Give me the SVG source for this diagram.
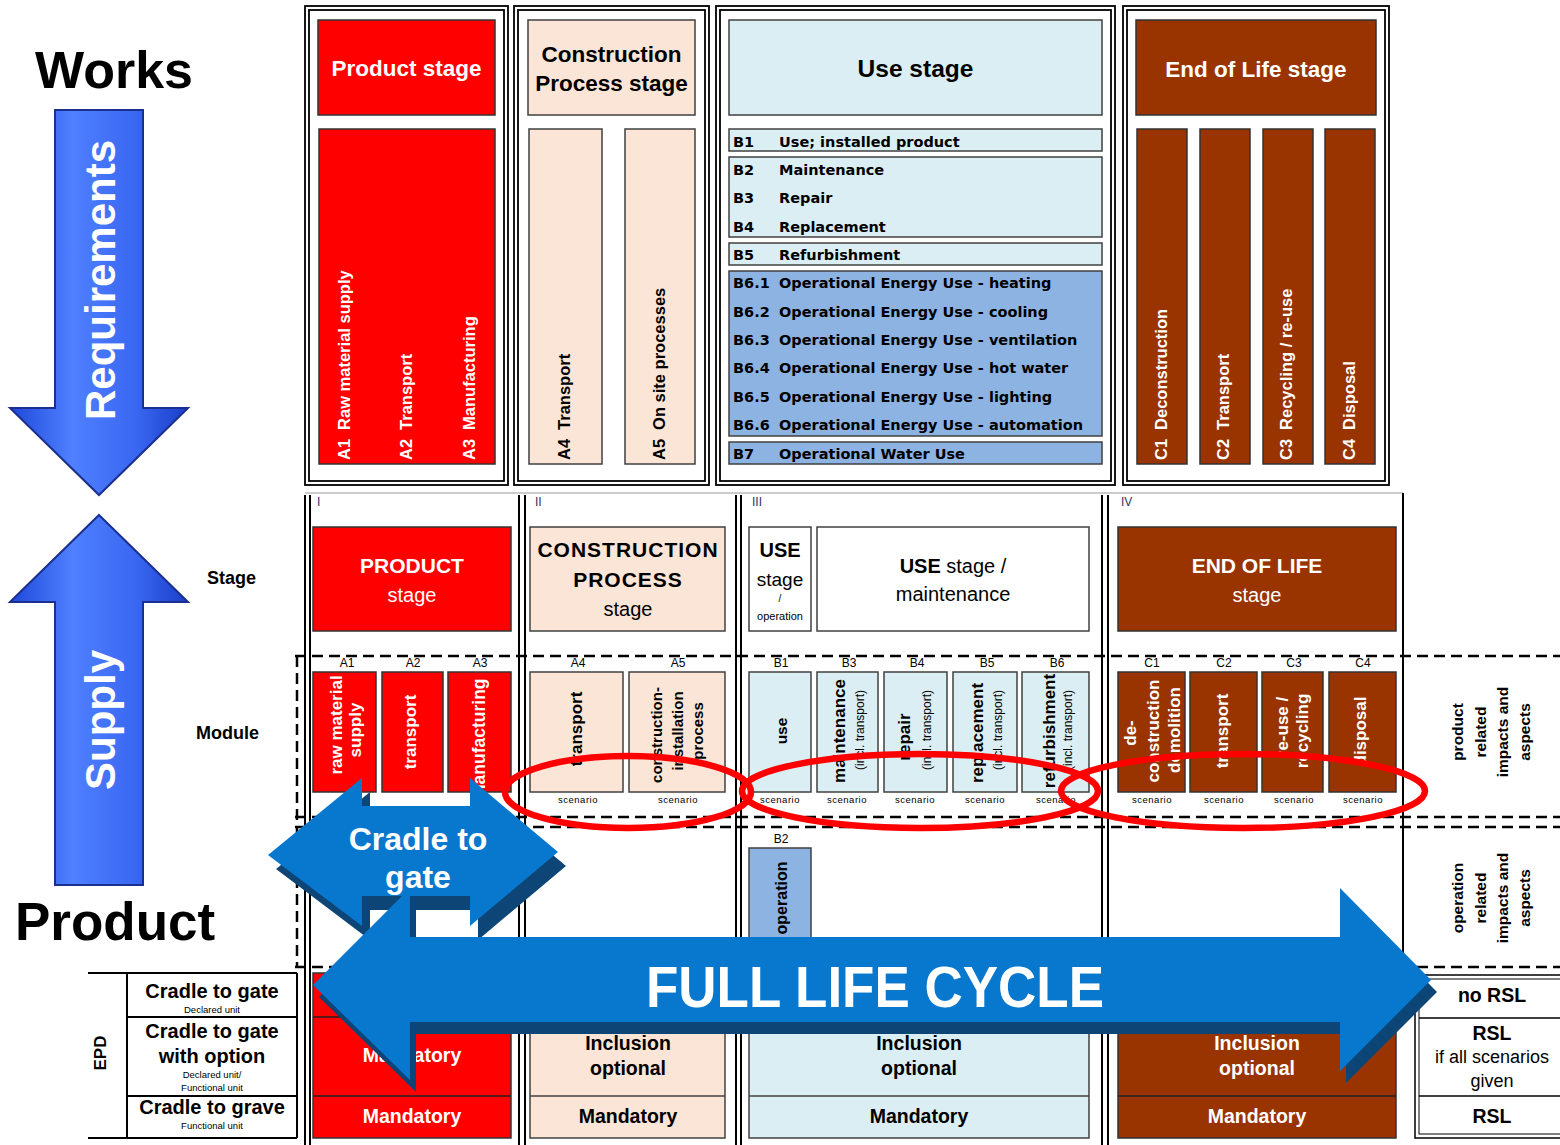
<svg xmlns="http://www.w3.org/2000/svg" width="1560" height="1145" viewBox="0 0 1560 1145">
<defs>
<style>
text{font-family:"Liberation Sans",Arial,sans-serif;fill:#000}
.b{font-weight:bold}
.v{font-family:"DejaVu Sans",Verdana,sans-serif;font-weight:bold;font-size:14.5px}
.fr{fill:none;stroke:#000;stroke-width:1.8}
.red{fill:#FF0000;stroke:#333;stroke-width:1.5}
.pe{fill:#FBE5D6;stroke:#404040;stroke-width:1.5}
.lb{fill:#DAEEF3;stroke:#404040;stroke-width:1.5}
.db{fill:#8DB3E2;stroke:#404040;stroke-width:1.5}
.br{fill:#993300;stroke:#333;stroke-width:1.5}
.wh{fill:#fff;stroke:#404040;stroke-width:1.5}
.dash{stroke:#000;stroke-width:2.5;stroke-dasharray:11 6;fill:none}
.vl{stroke:#000;stroke-width:2;fill:none}
.w{fill:#fff}
.ml{font-size:12px;text-anchor:middle}
.sc{font-size:9.5px;text-anchor:middle;letter-spacing:0.5px}
.c{text-anchor:middle}
.rt{font-size:16.5px;font-weight:bold}
.mt{font-size:17px;font-weight:bold;text-anchor:middle}
.sub{font-size:12px;text-anchor:middle}
.ra{font-size:15.5px;font-weight:bold;text-anchor:middle}
.ell{fill:none;stroke:#FF0000;stroke-width:6.5}
.big{fill:#0878CE}
.bev{fill:#0D4676}
.rom{font-size:12px;fill:#333366}
.st{font-size:20px}
.bt{font-size:19.5px;font-weight:bold;text-anchor:middle}
</style>
<linearGradient id="ag" x1="0" x2="1" y1="0" y2="0">
<stop offset="0" stop-color="#1E48D8"/>
<stop offset="0.35" stop-color="#4F80FF"/>
<stop offset="0.7" stop-color="#3A68F2"/>
<stop offset="1" stop-color="#1A3EC8"/>
</linearGradient>
<clipPath id="clipA3"><rect x="448" y="672" width="63" height="120"/></clipPath>
</defs>

<!-- Left side: Works / Requirements / Supply / Product -->
<g id="works-label"><text x="35" y="88" class="b" font-size="52">Works</text></g>
<g id="requirements-arrow">
<polygon points="55,110 143,110 143,408 188,408 99,495 10,408 55,408" fill="url(#ag)" stroke="#1A2F8F" stroke-width="2"/>
<text transform="translate(115,280) rotate(-90)" class="b w c" font-size="42">Requirements</text>
</g>
<g id="supply-arrow">
<polygon points="99,515 188,602 143,602 143,885 55,885 55,602 10,602" fill="url(#ag)" stroke="#1A2F8F" stroke-width="2"/>
<text transform="translate(115,720) rotate(-90)" class="b w c" font-size="42">Supply</text>
</g>
<g id="product-label"><text x="15" y="940" class="b" font-size="53">Product</text></g>

<!-- Top frames -->
<g id="frame-product-stage">
<rect x="305" y="6" width="203" height="479" class="fr"/>
<rect x="309" y="10" width="195" height="471" class="fr" stroke-width="1.2"/>
<rect x="318" y="20" width="177" height="95" class="red"/>
<text x="406.5" y="76" class="b w c" font-size="22.5">Product stage</text>
<rect x="319" y="129" width="176" height="335" class="red"/>
<text transform="translate(350,460) rotate(-90)" class="rt w">A1<tspan dx="9">Raw material supply</tspan></text>
<text transform="translate(412,460) rotate(-90)" class="rt w">A2<tspan dx="9">Transport</tspan></text>
<text transform="translate(475,460) rotate(-90)" class="rt w">A3<tspan dx="9">Manufacturing</tspan></text>
</g>
<g id="frame-construction-stage">
<rect x="514" y="6" width="195" height="479" class="fr"/>
<rect x="518" y="10" width="187" height="471" class="fr" stroke-width="1.2"/>
<rect x="528" y="20" width="167" height="95" class="pe"/>
<text x="611.5" y="62" class="b c" font-size="22.5">Construction</text>
<text x="611.5" y="91" class="b c" font-size="22.5">Process stage</text>
<rect x="529" y="129" width="73" height="335" class="pe"/>
<rect x="625" y="129" width="70" height="335" class="pe"/>
<text transform="translate(570,460) rotate(-90)" class="rt">A4<tspan dx="9">Transport</tspan></text>
<text transform="translate(665,460) rotate(-90)" class="rt">A5<tspan dx="9">On site processes</tspan></text>
</g>
<g id="frame-use-stage">
<rect x="716" y="6" width="399" height="479" class="fr"/>
<rect x="720" y="10" width="391" height="471" class="fr" stroke-width="1.2"/>
<rect x="729" y="20" width="373" height="95" class="lb"/>
<text x="915.5" y="77" class="b c" font-size="24.5">Use stage</text>
<rect x="729" y="129" width="373" height="22" class="lb"/>
<rect x="729" y="157" width="373" height="80" class="lb"/>
<rect x="729" y="243" width="373" height="22" class="lb"/>
<rect x="729" y="271" width="373" height="165" class="db"/>
<rect x="729" y="442" width="373" height="22" class="db"/>
<text x="733" y="147" class="v">B1</text><text x="779" y="147" class="v">Use; installed product</text>
<text x="733" y="175" class="v">B2</text><text x="779" y="175" class="v">Maintenance</text>
<text x="733" y="203" class="v">B3</text><text x="779" y="203" class="v">Repair</text>
<text x="733" y="232" class="v">B4</text><text x="779" y="232" class="v">Replacement</text>
<text x="733" y="260" class="v">B5</text><text x="779" y="260" class="v">Refurbishment</text>
<text x="733" y="288" class="v">B6.1</text><text x="779" y="288" class="v">Operational Energy Use - heating</text>
<text x="733" y="317" class="v">B6.2</text><text x="779" y="317" class="v">Operational Energy Use - cooling</text>
<text x="733" y="345" class="v">B6.3</text><text x="779" y="345" class="v">Operational Energy Use - ventilation</text>
<text x="733" y="373" class="v">B6.4</text><text x="779" y="373" class="v">Operational Energy Use - hot water</text>
<text x="733" y="402" class="v">B6.5</text><text x="779" y="402" class="v">Operational Energy Use - lighting</text>
<text x="733" y="430" class="v">B6.6</text><text x="779" y="430" class="v">Operational Energy Use - automation</text>
<text x="733" y="459" class="v">B7</text><text x="779" y="459" class="v">Operational Water Use</text>
</g>
<g id="frame-end-of-life-stage">
<rect x="1123" y="6" width="266" height="479" class="fr"/>
<rect x="1127" y="10" width="258" height="471" class="fr" stroke-width="1.2"/>
<rect x="1136" y="20" width="240" height="95" class="br"/>
<text x="1256" y="77" class="b w c" font-size="22.5">End of Life stage</text>
<rect x="1137" y="129" width="50" height="335" class="br"/>
<rect x="1200" y="129" width="50" height="335" class="br"/>
<rect x="1263" y="129" width="50" height="335" class="br"/>
<rect x="1325" y="129" width="50" height="335" class="br"/>
<text transform="translate(1167,460) rotate(-90)" class="rt w">C1<tspan dx="9">Deconstruction</tspan></text>
<text transform="translate(1229,460) rotate(-90)" class="rt w">C2<tspan dx="9">Transport</tspan></text>
<text transform="translate(1292,460) rotate(-90)" class="rt w">C3<tspan dx="9">Recycling / re-use</tspan></text>
<text transform="translate(1355,460) rotate(-90)" class="rt w">C4<tspan dx="9">Disposal</tspan></text>
</g>

<!-- Lower grid -->
<g id="grid">
<line x1="305" y1="493" x2="1403" y2="493" stroke="#999" stroke-width="1.2"/>
<line x1="1403" y1="493" x2="1403" y2="968" class="vl"/>
<line x1="305" y1="495" x2="305" y2="1145" class="vl" stroke-width="2.5"/>
<line x1="310" y1="495" x2="310" y2="1145" class="vl"/>
<line x1="519" y1="495" x2="519" y2="1145" class="vl" stroke-width="2.5"/>
<line x1="525" y1="495" x2="525" y2="1145" class="vl"/>
<line x1="736" y1="495" x2="736" y2="1145" class="vl" stroke-width="2.5"/>
<line x1="741" y1="495" x2="741" y2="1145" class="vl"/>
<line x1="1102" y1="495" x2="1102" y2="1145" class="vl" stroke-width="2.5"/>
<line x1="1108" y1="495" x2="1108" y2="1145" class="vl"/>
<line x1="295" y1="656" x2="1560" y2="656" class="dash"/>
<line x1="295" y1="817" x2="1560" y2="817" class="dash"/>
<line x1="295" y1="827" x2="1560" y2="827" class="dash"/>
<line x1="295" y1="967" x2="1560" y2="967" class="dash"/>
<line x1="297" y1="656" x2="297" y2="967" class="dash"/>
<text x="317" y="506" class="rom">I</text>
<text x="535" y="506" class="rom">II</text>
<text x="752" y="506" class="rom">III</text>
<text x="1121" y="506" class="rom">IV</text>
<text x="207" y="584" class="b" font-size="18">Stage</text>
<text x="196" y="739" class="b" font-size="18">Module</text>
</g>

<!-- Stage row -->
<g id="stage-product">
<rect x="313" y="527" width="198" height="104" class="red"/>
<text x="412" y="573" class="b w c" font-size="21">PRODUCT</text>
<text x="412" y="602" class="w c st">stage</text>
</g>
<g id="stage-construction">
<rect x="530" y="527" width="195" height="104" class="pe"/>
<text x="628" y="557" class="b c" font-size="21" letter-spacing="1">CONSTRUCTION</text>
<text x="628" y="587" class="b c" font-size="21" letter-spacing="1">PROCESS</text>
<text x="628" y="616" class="c st">stage</text>
</g>
<g id="stage-use-operation">
<rect x="749" y="527" width="62" height="104" class="wh"/>
<text x="780" y="557" class="b c" font-size="20">USE</text>
<text x="780" y="586" class="c" font-size="19">stage</text>
<text x="780" y="602" class="c" font-size="10">/</text>
<text x="780" y="620" class="c" font-size="11">operation</text>
</g>
<g id="stage-use-maintenance">
<rect x="817" y="527" width="272" height="104" class="wh"/>
<text x="953" y="573" class="c st"><tspan font-weight="bold">USE</tspan> stage /</text>
<text x="953" y="601" class="c st">maintenance</text>
</g>
<g id="stage-end-of-life">
<rect x="1118" y="527" width="278" height="104" class="br"/>
<text x="1257" y="573" class="b w c" font-size="21">END OF LIFE</text>
<text x="1257" y="602" class="w c st">stage</text>
</g>

<!-- Module row -->
<g id="module-labels">
<text x="347" y="667" class="ml">A1</text><text x="413" y="667" class="ml">A2</text><text x="480" y="667" class="ml">A3</text>
<text x="578" y="667" class="ml">A4</text><text x="678" y="667" class="ml">A5</text>
<text x="781" y="667" class="ml">B1</text><text x="849" y="667" class="ml">B3</text><text x="917" y="667" class="ml">B4</text><text x="987" y="667" class="ml">B5</text><text x="1057" y="667" class="ml">B6</text>
<text x="1152" y="667" class="ml">C1</text><text x="1224" y="667" class="ml">C2</text><text x="1294" y="667" class="ml">C3</text><text x="1363" y="667" class="ml">C4</text>
<text x="781" y="843" class="ml">B2</text>
</g>
<g id="module-a1">
<rect x="313" y="672" width="63" height="120" class="red"/>
<text transform="translate(342,725) rotate(-90)" class="mt w">raw material</text>
<text transform="translate(361,730) rotate(-90)" class="mt w">supply</text>
</g>
<g id="module-a2">
<rect x="382" y="672" width="61" height="120" class="red"/>
<text transform="translate(416,732) rotate(-90)" class="mt w">transport</text>
</g>
<g id="module-a3">
<rect x="448" y="672" width="63" height="120" class="red"/>
<g clip-path="url(#clipA3)">
<text transform="translate(485,800) rotate(-90)" class="b w" font-size="17.5">manufacturing</text>
</g>
</g>
<g id="module-a4">
<rect x="530" y="672" width="93" height="120" class="pe"/>
<text transform="translate(582,729) rotate(-90)" class="mt">transport</text>
<text x="578" y="803" class="sc">scenario</text>
</g>
<g id="module-a5">
<rect x="629" y="672" width="96" height="120" class="pe"/>
<text transform="translate(662,735) rotate(-90)" class="b c" font-size="15">construction-</text>
<text transform="translate(683,731) rotate(-90)" class="b c" font-size="15">installation</text>
<text transform="translate(703,731) rotate(-90)" class="b c" font-size="15">process</text>
<text x="678" y="803" class="sc">scenario</text>
</g>
<g id="module-b1">
<rect x="749" y="672" width="62" height="120" class="lb"/>
<text transform="translate(787,731) rotate(-90)" class="b c" font-size="15.5">use</text>
<text x="780" y="803" class="sc">scenario</text>
</g>
<g id="module-b3">
<rect x="817" y="672" width="61" height="120" class="lb"/>
<text transform="translate(845,731) rotate(-90)" class="mt" font-size="16">maintenance</text>
<text transform="translate(864,730) rotate(-90)" class="sub">(incl. transport)</text>
<text x="847" y="803" class="sc">scenario</text>
</g>
<g id="module-b4">
<rect x="884" y="672" width="63" height="120" class="lb"/>
<text transform="translate(910,737) rotate(-90)" class="mt" font-size="16">repair</text>
<text transform="translate(931,730) rotate(-90)" class="sub">(incl. transport)</text>
<text x="915" y="803" class="sc">scenario</text>
</g>
<g id="module-b5">
<rect x="953" y="672" width="64" height="120" class="lb"/>
<text transform="translate(983,733) rotate(-90)" class="mt" font-size="16">replacement</text>
<text transform="translate(1002,730) rotate(-90)" class="sub">(incl. transport)</text>
<text x="985" y="803" class="sc">scenario</text>
</g>
<g id="module-b6">
<rect x="1022" y="672" width="67" height="120" class="lb"/>
<text transform="translate(1055,731) rotate(-90)" class="mt" font-size="16">refurbishment</text>
<text transform="translate(1072,730) rotate(-90)" class="sub">(incl. transport)</text>
<text x="1056" y="803" class="sc">scenario</text>
</g>
<g id="module-b2">
<rect x="749" y="848" width="62" height="92" class="db"/>
<text transform="translate(787,898) rotate(-90)" class="b c" font-size="16">operation</text>
</g>
<g id="module-c1">
<rect x="1118" y="672" width="67" height="120" class="br"/>
<text transform="translate(1136,733) rotate(-90)" class="mt w">de-</text>
<text transform="translate(1159,731) rotate(-90)" class="mt w">construction</text>
<text transform="translate(1180,730) rotate(-90)" class="mt w">demolition</text>
<text x="1152" y="803" class="sc">scenario</text>
</g>
<g id="module-c2">
<rect x="1190" y="672" width="67" height="120" class="br"/>
<text transform="translate(1228,731) rotate(-90)" class="mt w">transport</text>
<text x="1224" y="803" class="sc">scenario</text>
</g>
<g id="module-c3">
<rect x="1262" y="672" width="61" height="120" class="br"/>
<text transform="translate(1288,727) rotate(-90)" class="mt w">re-use /</text>
<text transform="translate(1308,731) rotate(-90)" class="mt w">recycling</text>
<text x="1294" y="803" class="sc">scenario</text>
</g>
<g id="module-c4">
<rect x="1329" y="672" width="67" height="120" class="br"/>
<text transform="translate(1366,731) rotate(-90)" class="mt w">disposal</text>
<text x="1363" y="803" class="sc">scenario</text>
</g>
<g id="product-related">
<text transform="translate(1463,732) rotate(-90)" class="ra">product</text>
<text transform="translate(1486,732) rotate(-90)" class="ra">related</text>
<text transform="translate(1508,732) rotate(-90)" class="ra">impacts and</text>
<text transform="translate(1530,732) rotate(-90)" class="ra">aspects</text>
</g>
<g id="operation-related">
<text transform="translate(1463,898) rotate(-90)" class="ra">operation</text>
<text transform="translate(1486,898) rotate(-90)" class="ra">related</text>
<text transform="translate(1508,898) rotate(-90)" class="ra">impacts and</text>
<text transform="translate(1530,898) rotate(-90)" class="ra">aspects</text>
</g>

<!-- Bottom table -->
<g id="epd-table">
<line x1="88" y1="973" x2="297" y2="973" class="vl" stroke-width="1.5"/>
<line x1="88" y1="1138" x2="297" y2="1138" class="vl" stroke-width="1.5"/>
<line x1="127" y1="973" x2="127" y2="1138" class="vl" stroke-width="1.5"/>
<line x1="297" y1="973" x2="297" y2="1138" class="vl" stroke-width="1.5"/>
<line x1="127" y1="1017" x2="297" y2="1017" class="vl" stroke-width="1.5"/>
<line x1="127" y1="1096" x2="297" y2="1096" class="vl" stroke-width="1.5"/>
<text transform="translate(106,1053) rotate(-90)" class="b c" font-size="17">EPD</text>
<text x="212" y="998" class="b c" font-size="20">Cradle to gate</text>
<text x="212" y="1013" class="c" font-size="9.5">Declared unit</text>
<text x="212" y="1038" class="b c" font-size="20">Cradle to gate</text>
<text x="212" y="1063" class="b c" font-size="20">with option</text>
<text x="212" y="1078" class="c" font-size="9.5">Declared unit/</text>
<text x="212" y="1091" class="c" font-size="9.5">Functional unit</text>
<text x="212" y="1114" class="b c" font-size="20">Cradle to grave</text>
<text x="212" y="1129" class="c" font-size="9.5">Functional unit</text>
</g>
<g id="table-product">
<rect x="313" y="973" width="198" height="165" class="red"/>
<line x1="313" y1="1017" x2="511" y2="1017" stroke="#222" stroke-width="1.5"/>
<line x1="313" y1="1096" x2="511" y2="1096" stroke="#222" stroke-width="1.5"/>
<text x="412" y="1062" class="bt w">Mandatory</text>
<text x="412" y="1123" class="bt w">Mandatory</text>
</g>
<g id="table-construction">
<rect x="530" y="973" width="195" height="165" class="pe"/>
<line x1="530" y1="1096" x2="725" y2="1096" stroke="#404040" stroke-width="1.5"/>
<text x="628" y="1050" class="bt">Inclusion</text>
<text x="628" y="1075" class="bt">optional</text>
<text x="628" y="1123" class="bt">Mandatory</text>
</g>
<g id="table-use">
<rect x="749" y="973" width="340" height="165" class="lb"/>
<line x1="749" y1="1096" x2="1089" y2="1096" stroke="#404040" stroke-width="1.5"/>
<text x="919" y="1050" class="bt">Inclusion</text>
<text x="919" y="1075" class="bt">optional</text>
<text x="919" y="1123" class="bt">Mandatory</text>
</g>
<g id="table-end-of-life">
<rect x="1118" y="973" width="278" height="165" class="br"/>
<line x1="1118" y1="1096" x2="1396" y2="1096" stroke="#222" stroke-width="1.5"/>
<text x="1257" y="1050" class="bt w">Inclusion</text>
<text x="1257" y="1075" class="bt w">optional</text>
<text x="1257" y="1123" class="bt w">Mandatory</text>
</g>
<g id="table-rsl">
<rect x="1415" y="975" width="160" height="163" fill="#fff" stroke="#000" stroke-width="1.5"/>
<rect x="1419" y="979" width="150" height="155" fill="none" stroke="#000" stroke-width="1"/>
<line x1="1419" y1="1018" x2="1560" y2="1018" stroke="#000" stroke-width="1.5"/>
<line x1="1419" y1="1096" x2="1560" y2="1096" stroke="#000" stroke-width="1.5"/>
<text x="1492" y="1002" class="bt">no RSL</text>
<text x="1492" y="1040" class="bt">RSL</text>
<text x="1492" y="1063" class="c" font-size="18">if all scenarios</text>
<text x="1492" y="1087" class="c" font-size="18">given</text>
<text x="1492" y="1123" class="bt">RSL</text>
</g>

<!-- Red scenario ellipses -->
<g id="scenario-ellipses">
<ellipse cx="628" cy="792" rx="123" ry="36" class="ell"/>
<ellipse cx="920" cy="791" rx="178" ry="37" class="ell"/>
<ellipse cx="1243" cy="791" rx="182" ry="37" class="ell"/>
</g>

<!-- Cradle to gate arrow -->
<g id="cradle-to-gate-arrow">
<polygon points="276,869 370,792 370,820 478,820 478,792 566,866 478,940 478,910 370,910 370,940" class="bev"/>
<polygon points="268,855 362,778 362,806 470,806 470,778 558,852 470,926 470,896 362,896 362,926" class="big"/>
<text x="418" y="850" class="b w c" font-size="32">Cradle to</text>
<text x="418" y="888" class="b w c" font-size="32">gate</text>
</g>

<!-- Full life cycle arrow -->
<g id="full-life-cycle-arrow">
<polygon points="319,997 416,900 416,949 1346,949 1346,900 1437,992 1346,1083 1346,1034 416,1034 416,1092" class="bev"/>
<polygon points="313,985 410,888 410,937 1340,937 1340,888 1431,980 1340,1071 1340,1022 410,1022 410,1080" class="big"/>
<text x="875" y="1007" class="b w c" font-size="58" textLength="458" lengthAdjust="spacingAndGlyphs">FULL LIFE CYCLE</text>
</g>
</svg>
